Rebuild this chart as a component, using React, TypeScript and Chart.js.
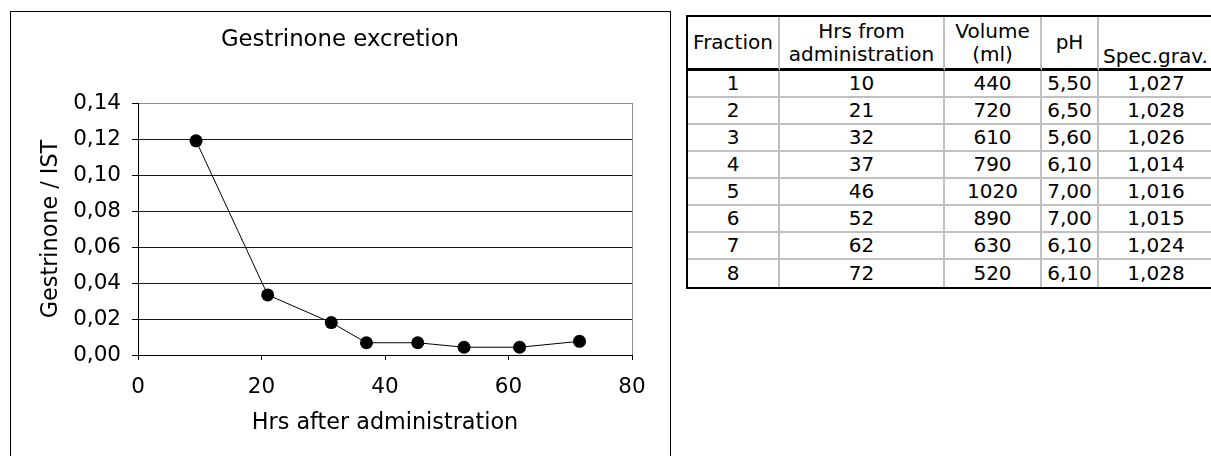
import React, { useEffect, useRef } from "react";
import { Chart, registerables } from "chart.js";

Chart.register(...registerables);

// ---- Chart data ----
const hours = [9.4, 21.0, 31.3, 37.0, 45.3, 52.8, 61.8, 71.5];
const gestrinoneRatio = [0.119, 0.0334, 0.018, 0.0068, 0.0068, 0.0043, 0.0043, 0.0076];
const xMin = 0;
const xMax = 80;
const xStep = 20;
const yMin = 0;
const yMax = 0.14;
const yStep = 0.02;

const chartTitle = "Gestrinone excretion";
const xTitle = "Hrs after administration";
const yTitle = "Gestrinone / IST";

// ---- Table data ----
const headerLines = [["Fraction"], ["Hrs from", "administration"], ["Volume", "(ml)"], ["pH"], ["Spec.grav."]];
const fractions = ["1", "2", "3", "4", "5", "6", "7", "8"];
const hrsFrom = ["10", "21", "32", "37", "46", "52", "62", "72"];
const volumes = ["440", "720", "610", "790", "1020", "890", "630", "520"];
const phValues = ["5,50", "6,50", "5,60", "6,10", "7,00", "7,00", "6,10", "6,10"];
const specGrav = ["1,027", "1,028", "1,026", "1,014", "1,016", "1,015", "1,024", "1,028"];

const FONT = "'DejaVu Sans', Verdana, sans-serif";
const colWidths = [92, 165, 97, 57, 114];
const GRID_GRAY = "#c0c0c0";

export default function App() {
  const canvasRef = useRef<HTMLCanvasElement>(null);

  useEffect(() => {
    const canvas = canvasRef.current;
    if (!canvas) return;
    Chart.defaults.font.family = FONT;
    const chart = new Chart(canvas, {
      type: "scatter",
      data: {
        datasets: [
          {
            data: hours.map((h, i) => ({ x: h, y: gestrinoneRatio[i] })),
            showLine: true,
            borderColor: "#000",
            borderWidth: 1,
            backgroundColor: "#000",
            pointBackgroundColor: "#000",
            pointBorderColor: "#000",
            pointBorderWidth: 0,
            pointRadius: 6.5,
            pointHoverRadius: 6.5,
          },
        ],
      },
      options: {
        responsive: false,
        animation: false,
        devicePixelRatio: 1,
        events: [],
        layout: { padding: { left: 0, right: 0, top: 0, bottom: 0 } },
        plugins: {
          legend: { display: false },
          tooltip: { enabled: false },
          title: {
            display: true,
            text: chartTitle,
            color: "#000",
            font: { family: FONT, size: 22.8, weight: "normal" },
            padding: { top: 14.5, bottom: 49.14 },
          },
        },
        scales: {
          x: {
            type: "linear",
            min: xMin,
            max: xMax,
            ticks: {
              stepSize: xStep,
              color: "#000",
              font: { family: FONT, size: 21.5 },
              padding: 15,
            },
            grid: {
              color: (c: any) => (c.tick && c.tick.value === xMax ? "#8c8c8c" : "rgba(0,0,0,0)"),
              tickColor: "#000",
              tickLength: 5,
              lineWidth: 1,
            },
            border: { display: true, color: "#000", width: 1 },
            title: {
              display: true,
              text: xTitle,
              color: "#000",
              font: { family: FONT, size: 22.3 },
              padding: { top: 0, bottom: 19 },
            },
            afterFit: (s: any) => {
              s.height = 101;
              s.paddingRight = 37;
            },
          },
          y: {
            type: "linear",
            min: yMin,
            max: yMax,
            ticks: {
              stepSize: yStep,
              color: "#000",
              font: { family: FONT, size: 21.5 },
              padding: 11,
              callback: (v: any) => Number(v).toFixed(2).replace(".", ","),
            },
            grid: {
              color: (c: any) =>
                c.tick && Math.abs(c.tick.value - yMax) < 1e-9 ? "#8c8c8c" : "#1a1a1a",
              tickColor: "#000",
              tickLength: 6,
              lineWidth: 1,
            },
            border: { display: true, color: "#000", width: 1 },
            title: {
              display: true,
              text: yTitle,
              color: "#000",
              font: { family: FONT, size: 22.3 },
              padding: { top: 27, bottom: 0 },
            },
            afterFit: (s: any) => {
              s.width = 127;
            },
          },
        },
      },
    } as any);
    return () => chart.destroy();
  }, []);

  const rows = fractions.map((f, i) => [f, hrsFrom[i], volumes[i], phValues[i], specGrav[i]]);

  const cellBase: React.CSSProperties = {
    boxSizing: "border-box",
    display: "flex",
    alignItems: "center",
    justifyContent: "center",
    textAlign: "center",
    whiteSpace: "nowrap",
    overflow: "visible",
  };

  return (
    <div
      style={{
        position: "fixed",
        left: 0,
        top: 0,
        width: 1211,
        height: 456,
        overflow: "hidden",
        background: "#fff",
      }}
    >
      {/* chart frame */}
      <div
        style={{
          position: "absolute",
          left: 10,
          top: 11,
          width: 661,
          height: 470,
          boxSizing: "border-box",
          border: "1px solid #000",
        }}
      />
      <canvas
        ref={canvasRef}
        width={658}
        height={444}
        style={{ position: "absolute", left: 11, top: 12, width: 658, height: 444 }}
      />

      {/* data table */}
      <div
        style={{
          position: "absolute",
          left: 686,
          top: 15,
          borderTop: "2px solid #000",
          borderLeft: "2px solid #000",
          borderBottom: "2px solid #000",
          borderRight: "2px solid #000",
          display: "grid",
          gridTemplateColumns: colWidths.map((w) => `${w}px`).join(" "),
          gridTemplateRows: `54px repeat(${fractions.length}, 27px)`,
          fontFamily: FONT,
          fontSize: 20,
          color: "#000",
        }}
      >
        {headerLines.map((lines, ci) => {
          const last = ci === headerLines.length - 1;
          return (
            <div
              key={"h" + ci}
              style={{
                ...cellBase,
                flexDirection: "column",
                justifyContent: last ? "flex-end" : "center",
                alignItems: last ? "flex-start" : "center",
                paddingLeft: last ? 4 : 0,
                lineHeight: "23px",
                borderRight: last ? "none" : `2px solid ${GRID_GRAY}`,
                borderBottom: "3px solid #000",
              }}
            >
              {lines.map((t, li) => (
                <span key={li}>{t}</span>
              ))}
            </div>
          );
        })}
        {rows.map((r, ri) =>
          r.map((v, ci) => (
            <div
              key={ri + "-" + ci}
              style={{
                ...cellBase,
                lineHeight: "25px",
                borderRight: ci === r.length - 1 ? "none" : `2px solid ${GRID_GRAY}`,
                borderBottom: ri === rows.length - 1 ? "none" : `2px solid ${GRID_GRAY}`,
              }}
            >
              {v}
            </div>
          ))
        )}
      </div>
    </div>
  );
}
